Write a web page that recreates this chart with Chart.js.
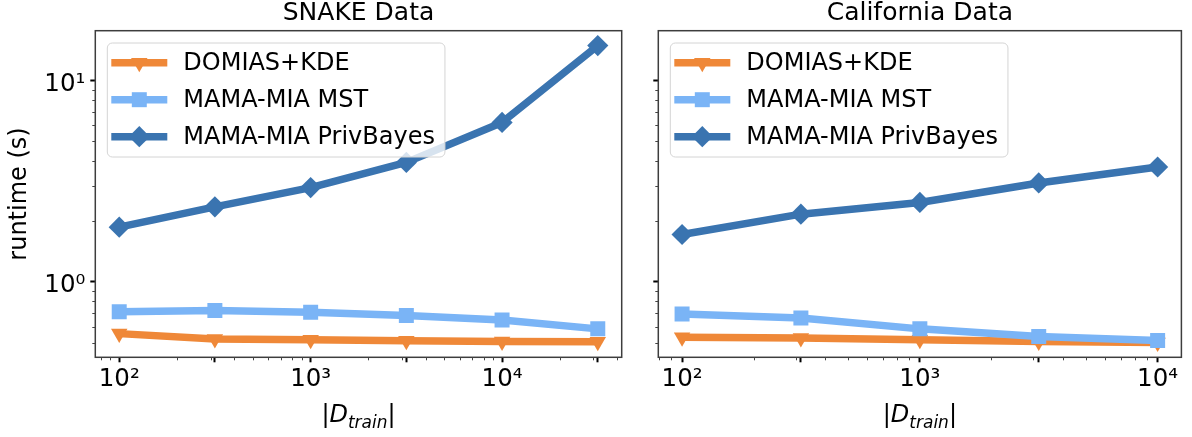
<!DOCTYPE html>
<html>
<head>
<meta charset="utf-8">
<script src="https://cdn.jsdelivr.net/npm/chart.js@4.4.1/dist/chart.umd.min.js"></script>
<style>
  html, body { margin: 0; padding: 0; background: #fff; }
  #wrap { position: relative; width: 1192px; height: 437px; overflow: hidden; }
  canvas { position: absolute; top: 0; }
  #snake { left: 0; }
  #cal { left: 640px; }
</style>
</head>
<body>
<div id="wrap">
  <canvas id="snake" width="640" height="437"></canvas>
  <canvas id="cal" width="552" height="437"></canvas>
</div>
<script>
// ---- data ----
const seriesLabels = ['DOMIAS+KDE', 'MAMA-MIA MST', 'MAMA-MIA PrivBayes'];

const snakeX = [100, 316, 1000, 3162, 10000, 31623];
const snakeDomias = [0.554, 0.521, 0.516, 0.510, 0.507, 0.505];
const snakeMst = [0.712, 0.721, 0.708, 0.681, 0.648, 0.585];
const snakePrivBayes = [1.87, 2.36, 2.94, 3.92, 6.19, 14.9];

const calX = [100, 316, 1000, 3162, 10000];
const calDomias = [0.531, 0.527, 0.516, 0.507, 0.501];
const calMst = [0.694, 0.663, 0.585, 0.536, 0.512];
const calPrivBayes = [1.72, 2.17, 2.48, 3.10, 3.72];

const yTickValues = [1, 10];
const yTickLabels = ['10⁰', '10¹'];
const xDecadeLabels = { 100: '10²', 1000: '10³', 10000: '10⁴' };

// ---- styling ----
const FONT = '"DejaVu Sans"';
const colors = ['#ef8838', '#7ab4f6', '#3a74b0'];
const markers = [
  { pointStyle: 'triangle', rotation: 180, radius: 9.5 },
  { pointStyle: 'rect', rotation: 0, radius: 10.6 },
  { pointStyle: 'rectRot', rotation: 0, radius: 10.6 }
];

Chart.defaults.font.family = FONT;
Chart.defaults.color = '#000';

function toPoints(xs, ys) {
  return xs.map((x, i) => ({ x: x, y: ys[i] }));
}

function makeDatasets(xs, seriesList) {
  return seriesList.map((ys, i) => ({
    label: seriesLabels[i],
    data: toPoints(xs, ys),
    borderColor: colors[i],
    backgroundColor: colors[i],
    borderWidth: 7.5,
    borderJoinStyle: 'round',
    pointStyle: markers[i].pointStyle,
    pointRotation: markers[i].rotation,
    pointRadius: markers[i].radius,
    pointBorderWidth: 0,
    pointBackgroundColor: colors[i],
    tension: 0,
    order: 3 - i
  }));
}

// frame, minor ticks, legend box and x label, drawn in the matplotlib way
const decorPlugin = {
  id: 'decor',
  afterDraw(chart) {
    const { ctx, chartArea: a } = chart;
    const xs = chart.scales.x, ys = chart.scales.y;
    ctx.save();

    // axes frame
    ctx.strokeStyle = '#3d3d3d';
    ctx.lineWidth = 1.5;
    ctx.strokeRect(a.left, a.top, a.right - a.left, a.bottom - a.top);

    // minor ticks
    ctx.strokeStyle = '#444';
    ctx.lineWidth = 1;
    for (let e = -1; e <= 4; e++) {
      for (let k = 2; k <= 9; k++) {
        const v = k * Math.pow(10, e);
        if (v > ys.min && v < ys.max) {
          const py = Math.round(ys.getPixelForValue(v)) + 0.5;
          ctx.beginPath(); ctx.moveTo(a.left - 3, py); ctx.lineTo(a.left, py); ctx.stroke();
        }
        if (v > xs.min && v < xs.max) {
          const px = Math.round(xs.getPixelForValue(v)) + 0.5;
          ctx.beginPath(); ctx.moveTo(px, a.bottom); ctx.lineTo(px, a.bottom + 3); ctx.stroke();
        }
      }
    }

    // legend
    ctx.font = '24px ' + FONT;
    const texts = chart.data.datasets.map(d => d.label);
    const maxW = Math.max(...texts.map(t => ctx.measureText(t).width));
    const bx = a.left + 12, by = a.top + 12.3;
    const bw = 76 + maxW + 10, bh = 114;
    ctx.beginPath();
    ctx.roundRect(bx, by, bw, bh, 5);
    ctx.fillStyle = 'rgba(255,255,255,0.8)';
    ctx.fill();
    ctx.strokeStyle = '#d4d4d4';
    ctx.lineWidth = 1;
    ctx.stroke();
    chart.data.datasets.forEach((d, i) => {
      const ry = by + 19.7 + i * 37;
      ctx.strokeStyle = d.borderColor;
      ctx.lineWidth = d.borderWidth;
      ctx.lineCap = 'butt';
      ctx.beginPath(); ctx.moveTo(bx + 4, ry); ctx.lineTo(bx + 60, ry); ctx.stroke();
      ctx.fillStyle = d.borderColor;
      Chart.helpers.drawPoint(ctx, {
        pointStyle: d.pointStyle, rotation: d.pointRotation,
        radius: d.pointRadius, borderWidth: 0
      }, bx + 32, ry);
      ctx.fillStyle = '#000';
      ctx.textBaseline = 'middle';
      ctx.textAlign = 'left';
      ctx.fillText(d.label, bx + 76, ry + 1);
    });

    // x label |D_train|
    const parts = [
      ['|', '24px ' + FONT, 0],
      ['D', 'italic 24px ' + FONT, 0],
      ['train', 'italic 17px ' + FONT, 6],
      ['|', '24px ' + FONT, 0]
    ];
    let total = 0;
    parts.forEach(p => { ctx.font = p[1]; p.push(ctx.measureText(p[0]).width); total += p[3]; });
    let cx = (a.left + a.right) / 2 - total / 2;
    ctx.textBaseline = 'alphabetic';
    ctx.fillStyle = '#000';
    parts.forEach(p => {
      ctx.font = p[1];
      ctx.fillText(p[0], cx, 422 + p[2]);
      cx += p[3];
    });
    ctx.restore();
  }
};

function makeChart(id, opts) {
  return new Chart(document.getElementById(id), {
    type: 'line',
    data: { datasets: makeDatasets(opts.xs, opts.series) },
    options: {
      responsive: false,
      animation: false,
      events: [],
      devicePixelRatio: 1,
      layout: { padding: { left: 0, top: 0, right: opts.padRight, bottom: 0 } },
      plugins: {
        legend: { display: false },
        tooltip: { enabled: false },
        title: {
          display: true,
          text: opts.title,
          fullSize: false,
          font: { size: 25, weight: 'normal', lineHeight: 1.0 },
          color: '#000',
          padding: { top: 0.5, bottom: 5.2 }
        }
      },
      scales: {
        x: {
          type: 'logarithmic',
          min: opts.xMin,
          max: opts.xMax,
          grid: { display: true, drawOnChartArea: false, drawTicks: true, tickLength: 5, tickWidth: 2, tickColor: '#000' },
          border: { display: false },
          ticks: {
            autoSkip: false, maxRotation: 0, padding: 3,
            font: { size: 24.5 }, color: '#000',
            callback: v => xDecadeLabels[v] || ''
          },
          afterBuildTicks: s => { s.ticks = opts.xs.map(v => ({ value: v })); },
          afterFit: s => { s.height = 79.7; s.paddingLeft = 0; s.paddingRight = 0; }
        },
        y: {
          type: 'logarithmic',
          min: Math.pow(10, -0.374),
          max: Math.pow(10, 1.247),
          grid: { display: true, drawOnChartArea: false, drawTicks: true, tickLength: 5, tickWidth: 2, tickColor: '#000' },
          border: { display: false },
          title: {
            display: opts.showY,
            text: 'runtime (s)',
            font: { size: 24 },
            color: '#000',
            padding: { top: 5, bottom: 0 }
          },
          ticks: {
            display: opts.showY,
            padding: 5, labelOffset: 4,
            font: { size: 24.5 }, color: '#000',
            callback: v => yTickLabels[yTickValues.indexOf(v)] || ''
          },
          afterBuildTicks: s => { s.ticks = yTickValues.map(v => ({ value: v })); },
          afterFit: s => { s.width = opts.yWidth; s.paddingTop = 0; s.paddingBottom = 0; }
        }
      }
    },
    plugins: [decorPlugin]
  });
}

makeChart('snake', {
  title: 'SNAKE Data',
  xs: snakeX,
  series: [snakeDomias, snakeMst, snakePrivBayes],
  xMin: Math.pow(10, 1.875),
  xMax: Math.pow(10, 4.625),
  yWidth: 95.3,
  padRight: 18.3,
  showY: true
});

makeChart('cal', {
  title: 'California Data',
  xs: calX,
  series: [calDomias, calMst, calPrivBayes],
  xMin: Math.pow(10, 1.9),
  xMax: Math.pow(10, 4.1),
  yWidth: 18.3,
  padRight: 8,
  showY: false
});
</script>
</body>
</html>
